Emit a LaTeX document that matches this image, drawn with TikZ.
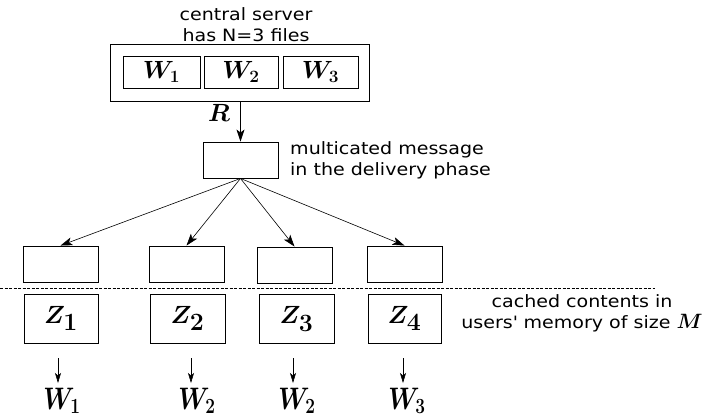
\documentclass[tikz,border=0pt]{standalone}
\usepackage[no-math]{fontspec}
\setmainfont{DejaVu Sans}[FakeStretch=1.12]
\usepackage{graphicx}
\usetikzlibrary{arrows.meta}
\begin{document}
\begin{tikzpicture}[x=1pt,y=-1pt,
  box/.style={draw, line width=0.9pt, inner sep=0pt, minimum width=75pt, minimum height=36pt},
  wbox/.style={box, minimum width=76pt, minimum height=32pt, font=\fontsize{25}{25}\selectfont\boldmath},
  zbox/.style={box, minimum width=74pt, minimum height=49pt, font=\fontsize{34}{34}\selectfont\boldmath},
  lab/.style={font=\fontsize{17}{21}\selectfont, inner sep=0pt},
  wlab/.style={font=\fontsize{25}{25}\selectfont\boldmath, inner sep=0pt, anchor=base},
  arr/.style={-{Stealth[length=12pt,width=8pt,inset=3pt]}, line width=0.6pt},
  sarr/.style={-{Stealth[length=10pt,width=6pt,inset=2.5pt]}, line width=0.6pt},
  dline/.style={line width=0.6pt, dash pattern=on 3pt off 1.5pt}]
\useasboundingbox (0,0) rectangle (708,418);
% server
\node[box, minimum width=259pt, minimum height=57pt] (srv) at (239.5,72.5) {};
\node[wbox, minimum width=77pt] (w1) at (161.5,72) {$W_1$};
\node[wbox, minimum width=74pt] (w2) at (241,72) {$W_2$};
\node[wbox, minimum width=75pt] (w3) at (320.5,72) {$W_3$};
\node[lab, align=center, anchor=north] (srvtxt) at (246,7) {central server\\has N=3 files};
% multicast
\node[box] (msg) at (240.5,160) {};
\draw[arr] (msg.north |- srv.south) -- (msg.north);
\node[font=\fontsize{24}{24}\selectfont\boldmath, inner sep=0pt] (R) at (219,113) {$R$};
\node[lab, align=left, anchor=north west] (msgtxt) at (290,141) {multicated message\\in the delivery phase};
% receive boxes
\node[box] (b1) at (60.5,264) {};
\node[box] (b2) at (186.5,264) {};
\node[box] (b3) at (294.5,265) {};
\node[box] (b4) at (404.5,264) {};
\draw[arr] (msg.south) -- (b1.north);
\draw[arr] (msg.south) -- (b2.north);
\draw[arr] (msg.south) -- (b3.north);
\draw[arr] (msg.south) -- (b4.north);
% dashed separator
\coordinate (dl) at (0,288);
\coordinate (dr) at (655,288);
\draw[dline] (dl) -- (dr);
% caches
\node[zbox] (z1) at (61,318.5) {$Z_1$};
\node[zbox, minimum width=75pt] (z2) at (187.5,318.5) {$Z_2$};
\node[zbox, minimum width=75pt] (z3) at (296.5,319) {$Z_3$};
\node[zbox, minimum width=73pt] (z4) at (404.5,318.5) {$Z_4$};
\node[lab, align=center, anchor=north] (cache) at (582,294) {cached contents in\\users\textquotesingle{} memory of size {\fontsize{22}{22}\selectfont\boldmath$M$}};
% demands
\coordinate (d1) at (58,358);
\coordinate (d2) at (191,358);
\coordinate (d3) at (293,358);
\coordinate (d4) at (403,358);
\coordinate (e1) at (58,383);
\coordinate (e2) at (191,383);
\coordinate (e3) at (293,383);
\coordinate (e4) at (403,383);
\draw[sarr] (d1) -- (e1);
\draw[sarr] (d2) -- (e2);
\draw[sarr] (d3) -- (e3);
\draw[sarr] (d4) -- (e4);
\node[wlab] (r1) at (62,409) {\scalebox{1}[1.25]{$W_1$}};
\node[wlab] (r2) at (197,409) {\scalebox{1}[1.25]{$W_2$}};
\node[wlab] (r3) at (297,409) {\scalebox{1}[1.25]{$W_2$}};
\node[wlab] (r4) at (407,409) {\scalebox{1}[1.25]{$W_3$}};
\end{tikzpicture}
\end{document}
